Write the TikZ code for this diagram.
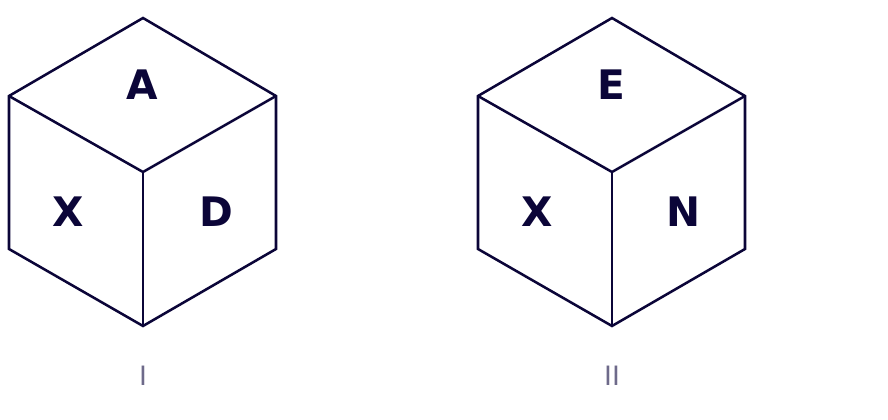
\documentclass[tikz,border=0pt]{standalone}
\usepackage{fontspec}
\setmainfont{DejaVu Sans}
\usetikzlibrary{positioning,calc}
\definecolor{ink}{HTML}{0B0538}
\definecolor{capgray}{HTML}{6E6A8A}
\tikzset{
  edge/.style={draw=ink,line width=1.9pt,line join=miter},
  face/.style={text=ink,font=\fontsize{30.5}{36}\selectfont\bfseries,inner sep=0pt},
  caption/.style={text=capgray,font=\fontsize{20}{24}\selectfont,inner sep=0pt}
}

\begin{document}
\begin{tikzpicture}[x=0.75pt,y=-0.75pt]
    \useasboundingbox (0,0) rectangle (888,420);

    % cube I
    \coordinate (top1) at (143,18);
    \coordinate (left1) at (9,96);
    \coordinate (right1) at (276,96);
    \coordinate (mid1) at (143,172);
    \coordinate (lbot1) at (9,249);
    \coordinate (rbot1) at (276,249);
    \coordinate (bot1) at (143,326);
    \draw [edge] (top1)--(right1)--(rbot1)--(bot1)--(lbot1)--(left1)--cycle;
    \draw [edge] (left1)--(mid1)--(right1);
    \draw [edge] (mid1)--(bot1);
    \node [face] (A) at (142,85) { A };
    \node [face] (X1) at (68,212) { X };
    \node [face] (D) at (216,212) { D };
    \node [caption] (one) at (143,376) { I };

    % cube II
    \coordinate (top2) at (612,18);
    \coordinate (left2) at (478,96);
    \coordinate (right2) at (745,96);
    \coordinate (mid2) at (612,172);
    \coordinate (lbot2) at (478,249);
    \coordinate (rbot2) at (745,249);
    \coordinate (bot2) at (612,326);
    \draw [edge] (top2)--(right2)--(rbot2)--(bot2)--(lbot2)--(left2)--cycle;
    \draw [edge] (left2)--(mid2)--(right2);
    \draw [edge] (mid2)--(bot2);
    \node [face] (E) at (611,85) { E };
    \node [face] (X2) at (537,212) { X };
    \node [face] (N) at (684,212) { N };
    \node [caption] (two) at (612,376) { II };
  \end{tikzpicture}
\end{document}
